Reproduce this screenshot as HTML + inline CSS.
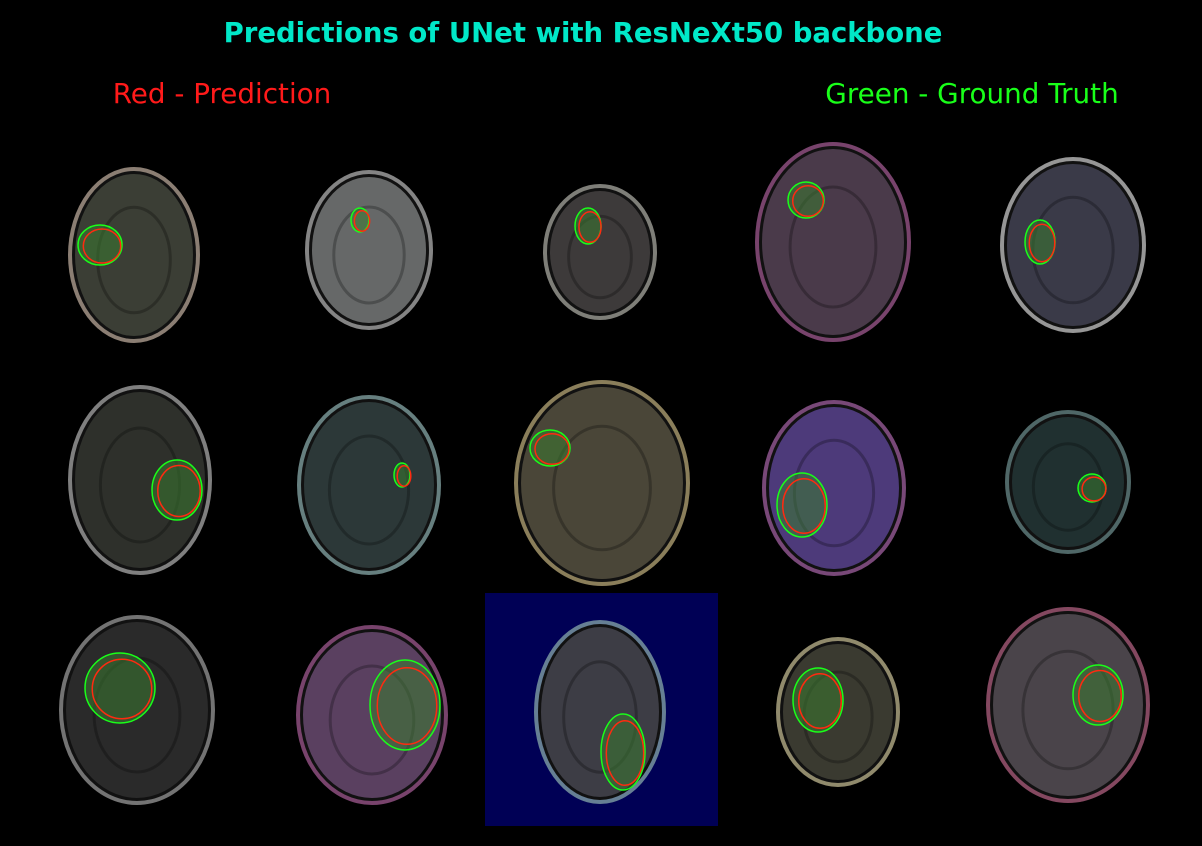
<!DOCTYPE html>
<html><head><meta charset="utf-8">
<style>
html,body{margin:0;padding:0;background:#000;width:1202px;height:846px;overflow:hidden;font-family:"Liberation Sans","DejaVu Sans",sans-serif;}
svg{display:block}
</style></head>
<body>
<svg width="1202" height="846" viewBox="0 0 1202 846">
<rect width="1202" height="846" fill="#000"/>
<text x="583" y="42" text-anchor="middle" font-family="DejaVu Sans, Liberation Sans, sans-serif" font-weight="bold" font-size="27.5" fill="#00e8c8">Predictions of UNet with ResNeXt50 backbone</text>
<text x="222" y="103" text-anchor="middle" font-family="DejaVu Sans, Liberation Sans, sans-serif" font-size="27.8" fill="#ff1a1a">Red - Prediction</text>
<text x="972" y="103" text-anchor="middle" font-family="DejaVu Sans, Liberation Sans, sans-serif" font-size="27.8" fill="#19ff19">Green - Ground Truth</text>
<rect x="485" y="593" width="233" height="233" fill="#000055"/>
<g id="brains"></g>
</svg>
<script>
const brains=[
 [134,255,66,88,'#3b3e35','#b9a89a',100,245,22,20],
 [369,250,64,80,'#666868','#b0b0b0',360,220,9,12],
 [600,252,57,68,'#3d3a3a','#a8a8a0',588,226,13,18],
 [833,242,78,100,'#4a3a4a','#a05a90',806,200,18,18],
 [1073,245,73,88,'#3a3a48','#c8c8c8',1040,242,15,22],
 [140,480,72,95,'#2e302b','#aaaaaa',177,490,25,30],
 [369,485,72,90,'#2c3838','#88aaaa',402,475,8,12],
 [602,483,88,103,'#4a4638','#b8a878',550,448,20,18],
 [834,488,72,88,'#4d3a7a','#a060a0',802,505,25,32],
 [1068,482,63,72,'#203030','#6a8a8a',1092,488,14,14],
 [137,710,78,95,'#2a2a2a','#999999',120,688,35,35],
 [372,715,76,90,'#5a4060','#a05a90',405,705,35,45],
 [600,712,66,92,'#3d3d45','#88aaaa',623,752,22,38],
 [838,712,62,75,'#3a3a30','#c0b890',818,700,25,32],
 [1068,705,82,98,'#4a444a','#b06080',1098,695,25,30]
];
const g=document.getElementById('brains');
const NS='http://www.w3.org/2000/svg';
brains.forEach((b,i)=>{
 const [cx,cy,rx,ry,fill,rim,tx,ty,trx,try_]=b;
 const grp=document.createElementNS(NS,'g');
 
 
 grp.innerHTML=
  `<ellipse cx="${cx}" cy="${cy}" rx="${rx}" ry="${ry}" fill="${rim}" opacity="0.75"/>`+
  `<ellipse cx="${cx}" cy="${cy}" rx="${rx-4}" ry="${ry-4}" fill="#111"/>`+
  `<ellipse cx="${cx}" cy="${cy}" rx="${rx-7}" ry="${ry-7}" fill="${fill}"/>`+
  `<ellipse cx="${cx}" cy="${cy+5}" rx="${rx*0.55}" ry="${ry*0.6}" fill="${fill}" stroke="#000" stroke-opacity="0.25" stroke-width="3"/>`+
  `<ellipse cx="${tx}" cy="${ty}" rx="${trx}" ry="${try_}" fill="#3a7a30" fill-opacity="0.55" stroke="#19ff19" stroke-width="1.5"/>`+
  `<ellipse cx="${tx+2}" cy="${ty+1}" rx="${trx*0.85}" ry="${try_*0.85}" fill="none" stroke="#ff2a10" stroke-width="1.5"/>`;
 g.appendChild(grp);
});
</script>
</body></html>
